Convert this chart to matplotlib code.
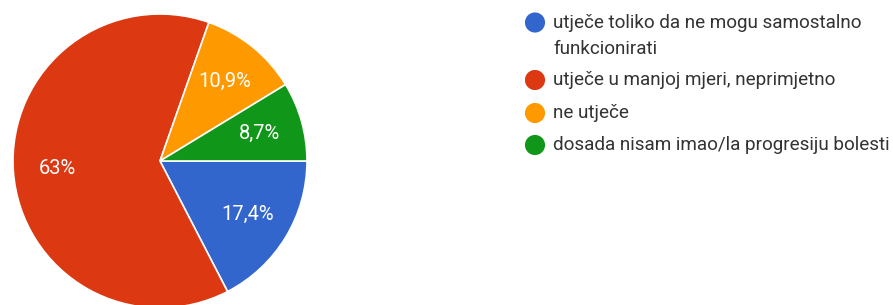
import matplotlib.pyplot as plt
import numpy as np

plt.switch_backend("agg")
plt.rcParams["font.family"] = ["Roboto", "DejaVu Sans"]

LABELS = [
    "utječe toliko da ne mogu samostalno\nfunkcionirati",
    "utječe u manjoj mjeri, neprimjetno",
    "ne utječe",
    "dosada nisam imao/la progresiju bolesti",
]
SHARES = [17.4, 63.0, 10.9, 8.7]
PCT_TEXT = ["17,4%", "63%", "10,9%", "8,7%"]
COLORS = ["#3366cc", "#dc3912", "#ff9900", "#109618"]

W, H = 893, 305
fig = plt.figure(figsize=(W / 100, H / 100), dpi=100)

# pie centred at (160, 161) px, radius 147 px
cx, cy, r = 160, 161, 147
ax = fig.add_axes([(cx - r) / W, (H - cy - r) / H, 2 * r / W, 2 * r / H])
wedges, _ = ax.pie(
    SHARES,
    colors=COLORS,
    startangle=0,
    counterclock=False,
    radius=1.0,
    wedgeprops={"edgecolor": "white", "linewidth": 1.2},
)
ax.set_xlim(-1, 1)
ax.set_ylim(-1, 1)
ax.set_aspect("auto")

for w, txt in zip(wedges, PCT_TEXT):
    mid = np.deg2rad((w.theta1 + w.theta2) / 2)
    ax.text(0.7 * np.cos(mid), 0.7 * np.sin(mid), txt, ha="center", va="center",
            color="white", fontsize=14.5)

# legend
lax = fig.add_axes([0, 0, 1, 1])
lax.set_xlim(0, W)
lax.set_ylim(H, 0)
lax.axis("off")
row_y = [22.5, 80, 113, 145]
for y, lab, col in zip(row_y, LABELS, COLORS):
    lax.scatter([535], [y], s=210, color=col, edgecolors="none")
    for i, line in enumerate(lab.split("\n")):
        lax.text(553, y + 26 * i, line, ha="left", va="center",
                 fontsize=13.6, color="#333333")

fig.savefig("out.png", dpi=100)
